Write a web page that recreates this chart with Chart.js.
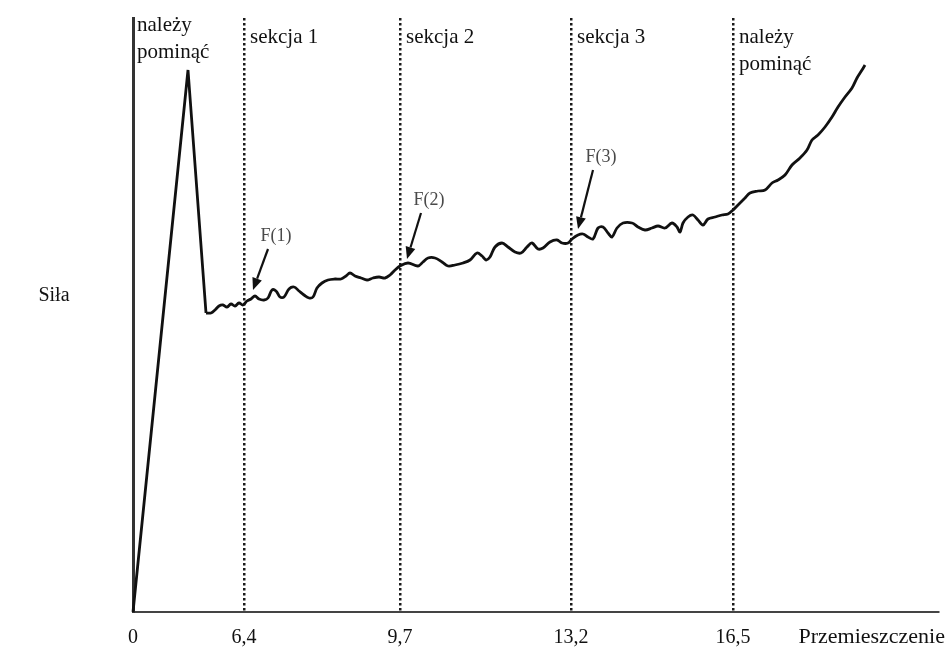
<!DOCTYPE html>
<html lang="pl">
<head>
<meta charset="utf-8">
<title>Siła – przemieszczenie</title>
<script src="https://cdn.jsdelivr.net/npm/chart.js@4.4.1/dist/chart.umd.min.js"></script>
<style>
  html, body { margin: 0; background: #fff; }
  #c { display: block; }
</style>
</head>
<body>
<canvas id="c" width="948" height="649"></canvas>
<script>
"use strict";

// Force vs displacement trace. The x axis is not to scale in the original
// (0..6,4 is squeezed), so x is kept in plot units and the ticks are relabelled.

// ---------- data ----------
const tickPos    = [0, 111, 267, 438, 600];
const tickLabels = ["0", "6,4", "9,7", "13,2", "16,5"];
const xTitle = "Przemieszczenie";
const yTitle = "Siła";

const sectionLabels = [["należy", "pominąć"], ["sekcja 1"], ["sekcja 2"], ["sekcja 3"], ["należy", "pominąć"]];

// initial spike (straight segments)
const spikeX = [0, 55, 73];
const spikeY = [0, 542, 299];

// wavy part of the trace
const curveX = [73, 78, 82, 86, 90, 94, 98, 102, 106, 110, 114, 118, 122, 126, 131, 135, 139, 143, 147, 151,
  156, 161, 166, 171, 176, 180, 184, 189, 195, 202, 208, 213, 217, 222, 228, 234, 240, 246, 252, 257,
  262, 267, 275, 285, 290, 295, 302, 309, 315, 322, 330, 337, 344, 349, 353, 357, 362, 369, 375, 382,
  388, 394, 399, 405, 410, 417, 424, 429, 435, 439, 445, 450, 455, 460, 465, 470, 475, 479, 484, 490,
  499, 505, 512, 519, 525, 532, 539, 544, 547, 550, 555, 560, 565, 570, 575, 582, 589, 595, 600, 605,
  612, 617, 625, 632, 639, 645, 652, 659, 667, 674, 679, 685, 692, 699, 705, 712, 719, 724, 729, 732];
const curveY = [299, 299, 302, 306, 307, 305, 308, 306, 309, 307, 311, 313, 316, 313, 312, 314, 322, 321, 315, 315,
  323, 325, 321, 317, 314, 315, 324, 329, 332, 333, 333, 336, 339, 336, 334, 332, 334, 335, 334, 337,
  342, 346, 349, 346, 350, 354, 354, 350, 346, 347, 349, 352, 359, 356, 352, 355, 365, 369, 365, 360,
  359, 365, 369, 363, 364, 370, 372, 369, 369, 373, 377, 378, 375, 373, 384, 385, 379, 375, 384, 389,
  389, 385, 382, 384, 386, 384, 389, 385, 380, 389, 395, 397, 392, 387, 393, 395, 397, 398, 402, 407,
  414, 419, 421, 422, 429, 432, 437, 447, 454, 462, 472, 477, 485, 495, 505, 515, 524, 534, 542, 547];

// F(n) markers: arrow tip and tail in plot units
const forceLabels = ["F(1)", "F(2)", "F(3)"];
const forceTipX  = [120, 274, 445];
const forceTipY  = [322, 353, 383];
const forceTailX = [135, 288, 460];
const forceTailY = [363, 399, 442];

// ---------- helpers ----------
const pts = (xs, ys) => xs.map((x, i) => ({ x, y: ys[i] }));
const SERIF = '"Liberation Serif", "DejaVu Serif", serif';
const INK = "#111";

function arrow(ctx, x1, y1, x2, y2) {
  const a = Math.atan2(y2 - y1, x2 - x1), len = 12, half = 5;
  const bx = x2 - len * Math.cos(a), by = y2 - len * Math.sin(a);
  ctx.beginPath();
  ctx.moveTo(x1, y1); ctx.lineTo(bx, by);
  ctx.stroke();
  ctx.beginPath();
  ctx.moveTo(x2, y2);
  ctx.lineTo(bx + half * Math.sin(a), by - half * Math.cos(a));
  ctx.lineTo(bx - half * Math.sin(a), by + half * Math.cos(a));
  ctx.closePath();
  ctx.fill();
}

// ---------- text / annotation plugin ----------
const labelsPlugin = {
  id: "labels",
  afterDraw(chart) {
    const { ctx, chartArea: area, scales: { x, y } } = chart;
    ctx.save();
    ctx.fillStyle = INK;

    // tick labels + axis titles
    ctx.font = `20px ${SERIF}`;
    ctx.textAlign = "center";
    ctx.textBaseline = "alphabetic";
    tickPos.forEach((v, i) => ctx.fillText(tickLabels[i], x.getPixelForValue(v), 643));
    ctx.textAlign = "right";
    ctx.font = `22px ${SERIF}`;
    ctx.fillText(xTitle, chart.width - 3, 643);
    ctx.font = `20px ${SERIF}`;
    ctx.textAlign = "center";
    ctx.fillText(yTitle, 54, 301);

    // section captions
    ctx.font = `21px ${SERIF}`;
    ctx.textAlign = "left";
    const baseTop = [13, 25, 25, 25, 25];
    sectionLabels.forEach((lines, i) => {
      const px = x.getPixelForValue(tickPos[i]) + (i === 0 ? 4 : 6);
      lines.forEach((t, j) => ctx.fillText(t, px, area.top + baseTop[i] + j * 27));
    });

    // F(n) arrows
    ctx.strokeStyle = INK;
    ctx.lineWidth = 2.2;
    forceLabels.forEach((t, i) => {
      const tx = x.getPixelForValue(forceTailX[i]), ty = y.getPixelForValue(forceTailY[i]);
      arrow(ctx, tx, ty, x.getPixelForValue(forceTipX[i]), y.getPixelForValue(forceTipY[i]));
      ctx.fillStyle = "#4a4a4a";
      ctx.font = `18px ${SERIF}`;
      ctx.textAlign = "center";
      ctx.textBaseline = "middle";
      ctx.fillText(t, tx + 8, ty - 13);
      ctx.fillStyle = INK;
    });
    ctx.restore();
  }
};

// ---------- chart ----------
const lineStyle = { borderColor: INK, borderWidth: 2.8, pointRadius: 0, clip: false, fill: false };

new Chart(document.getElementById("c"), {
  type: "line",
  data: {
    datasets: [
      { label: "spike", data: pts(spikeX, spikeY), tension: 0, ...lineStyle },
      { label: "trace", data: pts(curveX, curveY), tension: 0.35, ...lineStyle },
    ]
  },
  options: {
    responsive: false,
    animation: false,
    devicePixelRatio: 1,
    layout: { padding: { left: 133, right: 10, top: 18, bottom: 37 } },
    plugins: { legend: { display: false }, tooltip: { enabled: false } },
    scales: {
      x: {
        type: "linear", min: 0, max: 805,
        afterBuildTicks: s => { s.ticks = tickPos.map(v => ({ value: v })); },
        ticks: { display: false },
        grid: {
          display: true, drawTicks: false, lineWidth: 2.5,
          color: c => c.index === 0 ? "rgba(0,0,0,0)" : "#1a1a1a",
        },
        border: { display: true, color: "#444", width: 2, dash: [2.5, 2.5] },
      },
      y: {
        type: "linear", min: 0, max: 594,
        ticks: { display: false },
        grid: { display: false, drawTicks: false },
        border: { display: true, color: "#333", width: 3 },
      },
    },
  },
  plugins: [labelsPlugin],
});
</script>
</body>
</html>
